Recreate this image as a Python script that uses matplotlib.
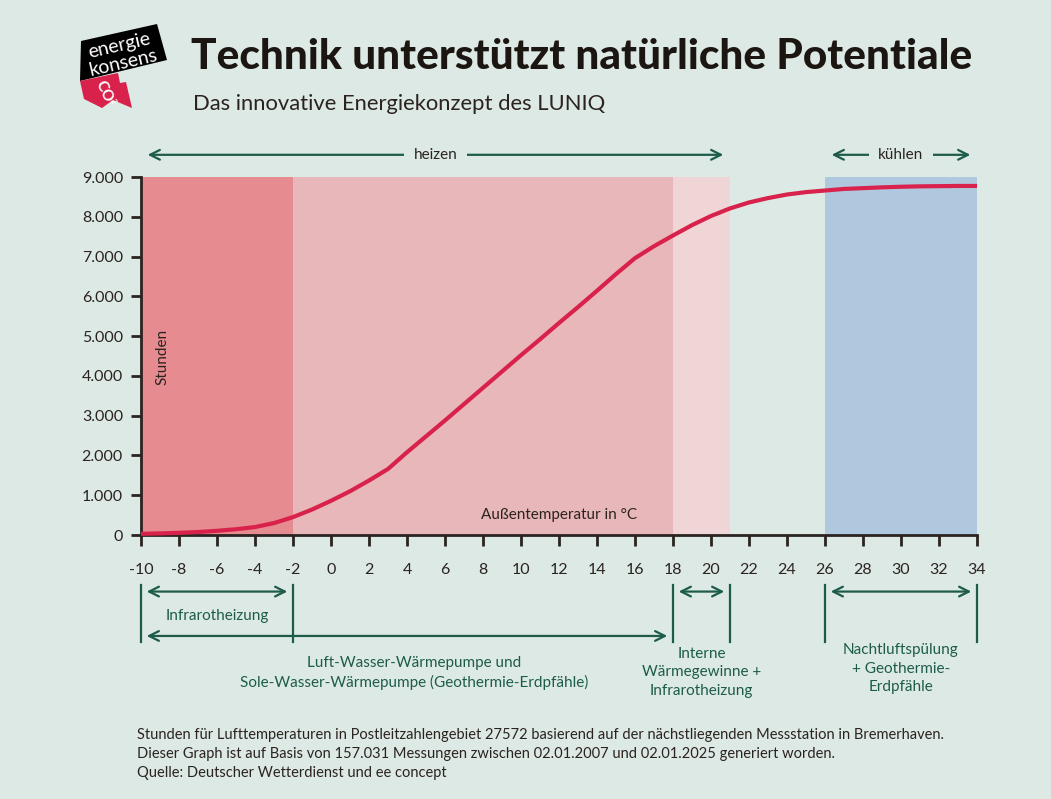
import matplotlib.pyplot as plt
import matplotlib.patches as mpatches
import numpy as np

plt.rcParams['font.family'] = ['Lato', 'DejaVu Sans']

# ---------------------------------------------------------------------------
# data
temps = list(range(-10, 35))
hours = [30, 40, 55, 75, 105, 145, 200, 300, 450, 640, 860, 1100, 1370, 1660,
         2080, 2480, 2880, 3290, 3700, 4110, 4520, 4920, 5330, 5730, 6140,
         6560, 6960, 7260, 7530, 7790, 8020, 8210, 8360, 8470, 8560, 8620,
         8660, 8700, 8720, 8740, 8755, 8765, 8770, 8775, 8775]

bands = [(-10, -2), (-2, 18), (18, 21), (26, 34)]
band_colors = ['#e68b90', '#e8b7b9', '#efd5d6', '#b0c8de']

xticks = list(range(-10, 35, 2))
yticks = list(range(0, 9001, 1000))

top_ranges = [(-10, 21, 'heizen'), (26, 34, 'kühlen')]
tech_ranges = [(-10, -2), (18, 21), (26, 34)]
long_range = (-10, 18)
tech_labels = ['Infrarotheizung',
               'Luft-Wasser-Wärmepumpe und\nSole-Wasser-Wärmepumpe (Geothermie-Erdpfähle)',
               'Interne\nWärmegewinne +\nInfrarotheizung',
               'Nachtluftspülung\n+ Geothermie-\nErdpfähle']

bg = '#dde9e4'
green = '#1d5c4a'
dark = '#2b2320'

fig = plt.figure(figsize=(10.51, 7.99), dpi=100, facecolor=bg)
ax = fig.add_axes([0.13416, 0.33041, 0.79543, 0.44806])
ax.set_facecolor(bg)

for (a, b), c in zip(bands, band_colors):
    ax.axvspan(a, b, color=c, lw=0, zorder=0)

ax.plot(temps, hours, color='#d9224b', lw=3.0, solid_capstyle='butt',
        solid_joinstyle='round', zorder=3, clip_on=False)

ax.set_xlim(-10, 34)
ax.set_ylim(0, 9000)
ax.set_xticks(xticks)
ax.set_xticklabels([str(t) for t in xticks])
ax.set_yticks(yticks)
ax.set_yticklabels([f'{v:,}'.replace(',', '.') for v in yticks])
for s in ['top', 'right']:
    ax.spines[s].set_visible(False)
for s in ['left', 'bottom']:
    ax.spines[s].set_color(dark)
    ax.spines[s].set_linewidth(2)
ax.tick_params(axis='x', direction='out', length=8, width=2, color=dark,
               labelsize=11.5, labelcolor=dark, pad=12)
ax.tick_params(axis='y', direction='out', length=7, width=2, color=dark,
               labelsize=11.5, labelcolor=dark, pad=6)

ax.text(-8.85, 4470, 'Stunden', rotation=90, ha='center', va='center',
        fontsize=11, color=dark)
ax.text(12, 500, 'Außentemperatur in °C', ha='center', va='center',
        fontsize=11, color=dark)

# arrows, x in data, y in axes fraction
tr = ax.get_xaxis_transform()
arrow_kw = dict(arrowstyle='<->,head_length=0.7,head_width=0.35', color=green,
                lw=1.6, shrinkA=0, shrinkB=0)

for a, b, lab in top_ranges:
    ax.annotate('', xy=(a + 0.35, 1.062), xytext=(b - 0.35, 1.062),
                xycoords=tr, textcoords=tr, arrowprops=arrow_kw,
                annotation_clip=False)
    ax.text((a + b) / 2, 1.062, lab, transform=tr, ha='center', va='center',
            fontsize=11, color=dark,
            bbox=dict(boxstyle='square,pad=0.6', fc=bg, ec='none'))

for a, b in tech_ranges:
    for xv in (a, b):
        ax.plot([xv, xv], [-0.14, -0.30], transform=tr, color=green, lw=1.6,
                clip_on=False)
    ax.annotate('', xy=(a + 0.3, -0.158), xytext=(b - 0.3, -0.158),
                xycoords=tr, textcoords=tr, arrowprops=arrow_kw,
                annotation_clip=False)

ax.annotate('', xy=(long_range[0] + 0.3, -0.282), xytext=(long_range[1] - 0.3, -0.282),
            xycoords=tr, textcoords=tr, arrowprops=arrow_kw,
            annotation_clip=False)

ax.text(-6, -0.225, tech_labels[0], transform=tr, ha='center', va='center',
        fontsize=11, color=green)
ax.text(4.4, -0.386, tech_labels[1], transform=tr, ha='center', va='center',
        fontsize=11, color=green, linespacing=1.45)
ax.text(19.5, -0.384, tech_labels[2], transform=tr, ha='center', va='center',
        fontsize=11, color=green, linespacing=1.45)
ax.text(30, -0.373, tech_labels[3], transform=tr, ha='center', va='center',
        fontsize=11, color=green, linespacing=1.45)

# header
fig.text(191 / 1051, 1 - 57 / 799, 'Technik unterstützt natürliche Potentiale',
         ha='left', va='center', fontsize=30.5, fontweight='black', color='#1c1612')
fig.text(193 / 1051, 1 - 104 / 799, 'Das innovative Energiekonzept des LUNIQ',
         ha='left', va='center', fontsize=15.8, color=dark)

# logo
def px(pts):
    return [(x / 1051, 1 - y / 799) for x, y in pts]

fig.patches.append(mpatches.Polygon(px([(81, 41), (157, 24), (167, 60), (80, 81)]),
                                    closed=True, fc='black', ec='none',
                                    transform=fig.transFigure))
fig.patches.append(mpatches.Polygon(px([(80, 81), (118, 73), (120, 83), (126, 82),
                                        (132, 108), (113, 100), (102, 108), (84, 99)]),
                                    closed=True, fc='#d9224b', ec='none',
                                    transform=fig.transFigure))
fig.text(119 / 1051, 1 - 46 / 799, 'energie', rotation=13, ha='center', va='center',
         fontsize=14, color='white')
fig.text(123 / 1051, 1 - 63 / 799, 'konsens', rotation=13, ha='center', va='center',
         fontsize=14, color='white')
fig.text(104 / 1051, 1 - 92 / 799, 'CO', rotation=-65, ha='center', va='center',
         fontsize=11, color='white', fontweight='bold')
fig.text(113 / 1051, 1 - 101 / 799, '2', rotation=-65, ha='center', va='center',
         fontsize=6, color='white', fontweight='bold')

# footnote
notes = ['Stunden für Lufttemperaturen in Postleitzahlengebiet 27572 basierend auf der nächstliegenden Messstation in Bremerhaven.',
         'Dieser Graph ist auf Basis von 157.031 Messungen zwischen 02.01.2007 und 02.01.2025 generiert worden.',
         'Quelle: Deutscher Wetterdienst und ee concept']
for i, n in enumerate(notes):
    fig.text(137 / 1051, 1 - (735 + 19 * i) / 799, n, ha='left', va='center',
             fontsize=10.5, color=dark)

fig.savefig('out.png', dpi=100, facecolor=bg)
